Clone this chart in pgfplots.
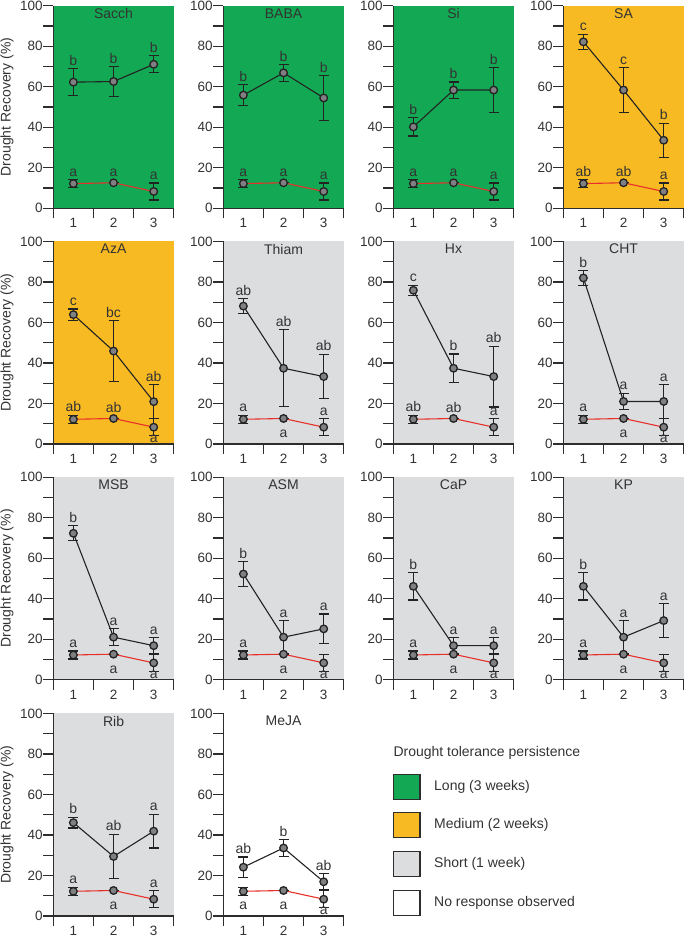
\documentclass[border=0pt]{standalone}
\usepackage{pgfplots}
\pgfplotsset{compat=1.18}
\usepackage{pgfplotstable}
\usepackage{fontspec}
\setmainfont{Liberation Sans}
\definecolor{cLong}{RGB}{19,168,84}
\definecolor{cMed}{RGB}{248,186,35}
\definecolor{cShort}{RGB}{220,221,223}
\definecolor{cRed}{RGB}{232,48,42}
\definecolor{cMark}{RGB}{128,128,130}
\definecolor{cDark}{RGB}{35,35,35}
\definecolor{txt}{RGB}{51,51,51}
\definecolor{axc}{RGB}{45,45,45}

\pgfplotstableread{
x y e
1 12.2 2.0
2 12.6 0.0
3 8.3 4.2
}\tRed

% black series: x y e
\pgfplotstableread{
x y e
1 62.3 6.7
2 62.6 7.3
3 71.1 4.2
}\dSacch
\pgfplotstableread{
x y e
1 55.9 5.1
2 66.9 4.1
3 54.5 11
}\dBABA
\pgfplotstableread{
x y e
1 40.2 4.5
2 58.4 4.0
3 58.4 11
}\dSi
\pgfplotstableread{
x y e
1 82.2 3.7
2 58.4 11
3 33.6 8.4
}\dSA
\pgfplotstableread{
x y e
1 63.9 2.8
2 45.9 15
3 20.9 8.3
}\dAzA
\pgfplotstableread{
x y e
1 68.1 3.7
2 37.4 19
3 33.3 11
}\dThiam
\pgfplotstableread{
x y e
1 75.9 2.5
2 37.4 7
3 33.3 15
}\dHx
\pgfplotstableread{
x y e
1 82.0 3.7
2 21.0 4.1
3 21.0 8.3
}\dCHT
\pgfplotstableread{
x y e
1 72.3 3.7
2 21.0 4.1
3 16.8 4.0
}\dMSB
\pgfplotstableread{
x y e
1 52.2 6.0
2 21.0 8.2
3 25.1 7.3
}\dASM
\pgfplotstableread{
x y e
1 46.1 6.7
2 16.8 4.0
3 16.8 4.0
}\dCaP
\pgfplotstableread{
x y e
1 46.1 6.7
2 21.0 8.2
3 29.2 8.4
}\dKP
\pgfplotstableread{
x y e
1 46.1 2.6
2 29.4 11
3 41.9 8.3
}\dRib
\pgfplotstableread{
x y e
1 24.1 5.0
2 33.6 4.2
3 16.9 4.1
}\dMeJA

% letters: x y(baseline) lab
\pgfplotstableread{
x y lab
1 70.7 b
2 71.6 b
3 77.0 b
1 15.9 a
2 15.6 a
3 14.2 a
}\lSacch
\pgfplotstableread{
x y lab
1 62.7 b
2 72.7 b
3 67.2 b
1 15.9 a
2 15.6 a
3 14.2 a
}\lBABA
\pgfplotstableread{
x y lab
1 46.4 b
2 64.1 b
3 71.1 b
1 15.9 a
2 15.6 a
3 14.2 a
}\lSi
\pgfplotstableread{
x y lab
1 87.6 c
2 71.1 c
3 43.7 b
1 15.9 ab
2 15.6 ab
3 14.2 a
}\lSA
\pgfplotstableread{
x y lab
1 68.4 c
2 62.6 bc
3 30.9 ab
1 15.9 ab
2 15.6 ab
3 0.5 a
}\lAzA
\pgfplotstableread{
x y lab
1 73.5 ab
2 58.1 ab
3 46.0 ab
1 15.9 a
2 3.0 a
3 14.2 a
}\lThiam
\pgfplotstableread{
x y lab
1 80.1 c
2 46.1 b
3 50.0 ab
1 15.9 ab
2 15.6 ab
3 14.2 a
}\lHx
\pgfplotstableread{
x y lab
1 87.4 b
2 26.8 a
3 31.0 a
1 15.9 a
2 3.0 a
3 0.5 a
}\lCHT
\pgfplotstableread{
x y lab
1 77.7 b
2 26.8 a
3 22.5 a
1 15.9 a
2 3.0 a
3 0.5 a
}\lMSB
\pgfplotstableread{
x y lab
1 59.9 b
2 30.9 a
3 34.1 a
1 15.9 a
2 3.0 a
3 0.5 a
}\lASM
\pgfplotstableread{
x y lab
1 54.5 b
2 22.5 a
3 22.5 a
1 15.9 a
2 3.0 a
3 0.5 a
}\lCaP
\pgfplotstableread{
x y lab
1 54.5 b
2 30.9 a
3 39.3 a
1 15.9 a
2 3.0 a
3 0.5 a
}\lKP
\pgfplotstableread{
x y lab
1 50.4 b
2 42.1 ab
3 51.9 a
1 15.9 a
2 3.0 a
3 14.2 a
}\lRib
\pgfplotstableread{
x y lab
1 30.8 ab
2 39.5 b
3 22.7 ab
1 3.0 a
2 3.0 a
3 0.5 a
}\lMeJA

\pgfplotsset{
  panel/.style={
    scale only axis, width=120.5pt, height=202.5pt,
    xmin=0.5, xmax=3.5, ymin=0, ymax=100,
    axis x line=bottom, axis y line=left,
    axis line style={-, line width=1.2pt, draw=axc},
    ytick={0,20,...,100}, minor ytick={10,30,...,90},
    xtick={1,2,3}, minor xtick={0.5,1.5,2.5,3.5},
    major x tick style={draw=none},
    tick align=outside, major tick length=10pt, minor tick length=10pt,
    every tick/.style={line width=1.2pt, draw=axc},
    tick label style={font=\fontsize{13.5}{15}\selectfont, text=txt},
    xticklabel style={inner sep=0pt},
    yticklabel style={inner sep=0.5pt},
    /pgf/number format/assume math mode=true,
    clip=false,
    title style={at={(0.5,1)}, anchor=north, inner sep=3.5pt, yshift=-5pt, font=\fontsize{14}{16}\selectfont, text=txt},
    every axis y label/.style={at={(axis description cs:-0.385,0.5)}, rotate=90, anchor=center, font=\fontsize{14}{16}\selectfont, text=txt},
  },
  lett/.style={draw=none, nodes near coords, point meta=explicit symbolic,
    every node near coord/.append style={anchor=base, inner sep=0pt, font=\fontsize{14}{16}\selectfont, text=txt}},
}

\newcommand\panel[7]{%
\begin{axis}[panel, at={(#1pt,#2pt)}, anchor=south west, title={#3},
  axis background/.style={fill=#4}, ylabel={#7}]
\addplot[color=cRed, line width=1.1pt, mark=*, mark size=3.8pt,
    mark options={fill=cMark, draw=cDark, line width=1.3pt, solid},
    error bars/.cd, y dir=both, y explicit, error mark=-,
    error bar style={line width=1.2pt, draw=cDark, solid},
    error mark options={rotate=90, mark size=5pt, line width=1.2pt, draw=cDark}]
  table[x=x,y=y,y error=e] {\tRed};
\addplot[color=cDark, line width=1.1pt, mark=*, mark size=3.8pt,
    mark options={fill=cMark, draw=cDark, line width=1.3pt, solid},
    error bars/.cd, y dir=both, y explicit, error mark=-,
    error bar style={line width=1.2pt, draw=cDark, solid},
    error mark options={rotate=90, mark size=5pt, line width=1.2pt, draw=cDark}]
  table[x=x,y=y,y error=e] {#5};
\addplot[lett] table[x=x,y=y,meta=lab] {#6};
\end{axis}}

\begin{document}
\begin{tikzpicture}[x=1pt,y=1pt]
\useasboundingbox (0,0) rectangle (685,937);
\panel{53.3}{728.7}{Sacch}{cLong}{\dSacch}{\lSacch}{Drought Recovery (\%)}
\panel{223.3}{728.7}{BABA}{cLong}{\dBABA}{\lBABA}{}
\panel{393.3}{728.7}{Si}{cLong}{\dSi}{\lSi}{}
\panel{563.3}{728.7}{SA}{cMed}{\dSA}{\lSA}{}
\panel{53.3}{493}{AzA}{cMed}{\dAzA}{\lAzA}{Drought Recovery (\%)}
\panel{223.3}{493}{Thiam}{cShort}{\dThiam}{\lThiam}{}
\panel{393.3}{493}{Hx}{cShort}{\dHx}{\lHx}{}
\panel{563.3}{493}{CHT}{cShort}{\dCHT}{\lCHT}{}
\panel{53.3}{257.3}{MSB}{cShort}{\dMSB}{\lMSB}{Drought Recovery (\%)}
\panel{223.3}{257.3}{ASM}{cShort}{\dASM}{\lASM}{}
\panel{393.3}{257.3}{CaP}{cShort}{\dCaP}{\lCaP}{}
\panel{563.3}{257.3}{KP}{cShort}{\dKP}{\lKP}{}
\panel{53.3}{21}{Rib}{cShort}{\dRib}{\lRib}{Drought Recovery (\%)}
\panel{223.3}{21}{MeJA}{white}{\dMeJA}{\lMeJA}{}
% legend
\begin{scope}[font=\fontsize{14}{16}\selectfont, text=txt]
\node[anchor=west, inner sep=0pt] at (393.3,184) {Drought tolerance persistence};
\foreach \yy/\cc/\tt in {150.3/cLong/Long (3 weeks), 111.7/cMed/Medium (2 weeks), 73/cShort/Short (1 week), 34.3/white/No response observed}{
  \draw[draw=axc, line width=1.3pt, fill=\cc] (393.3,\yy-12.5) rectangle (420,\yy+12.5);
  \node[anchor=west, inner sep=0pt] at (434,\yy) {\tt};
}
\end{scope}
\end{tikzpicture}
\end{document}
